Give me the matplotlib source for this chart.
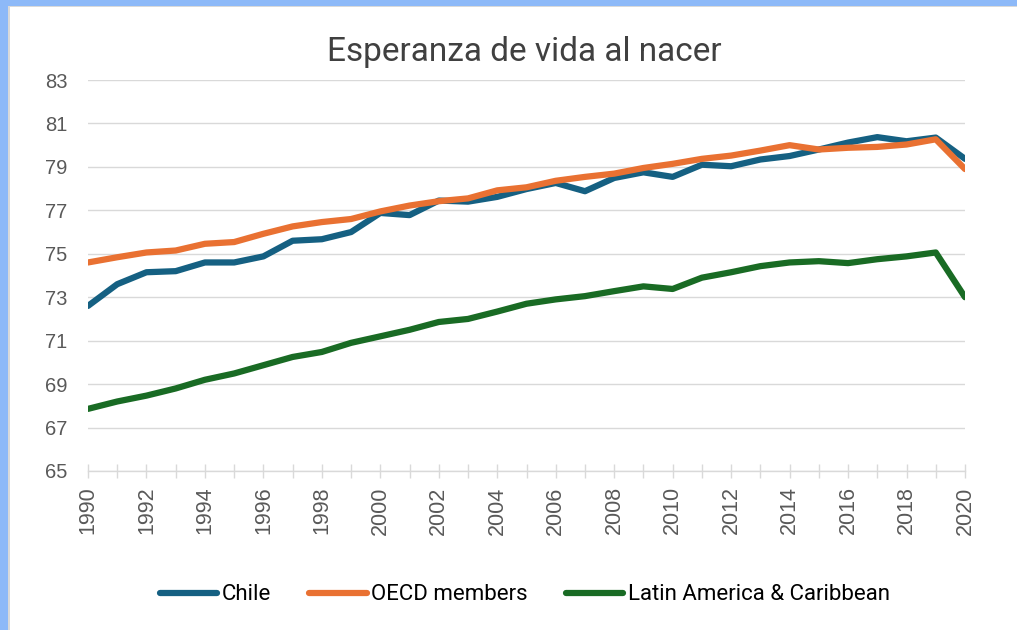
import matplotlib
matplotlib.use("Agg")
import matplotlib.pyplot as plt
from matplotlib.patches import Rectangle

# Life expectancy at birth
years = list(range(1990, 2021))
chile = [72.6, 73.6, 74.15, 74.2, 74.6, 74.6, 74.88, 75.6, 75.67, 76.0,
         76.88, 76.78, 77.45, 77.4, 77.62, 77.98, 78.26, 77.88, 78.49, 78.75,
         78.54, 79.1, 79.03, 79.34, 79.5, 79.8, 80.12, 80.37, 80.18, 80.35,
         79.37]
oecd = [74.6, 74.84, 75.06, 75.15, 75.46, 75.54, 75.92, 76.26, 76.46, 76.6,
        76.95, 77.22, 77.42, 77.55, 77.92, 78.06, 78.36, 78.54, 78.69, 78.95,
        79.14, 79.37, 79.52, 79.75, 80.0, 79.8, 79.88, 79.92, 80.03, 80.27,
        78.9]
latam = [67.86, 68.2, 68.47, 68.8, 69.2, 69.49, 69.87, 70.25, 70.48, 70.9,
         71.2, 71.5, 71.86, 72.0, 72.34, 72.7, 72.9, 73.05, 73.28, 73.5,
         73.38, 73.9, 74.15, 74.43, 74.6, 74.66, 74.57, 74.75, 74.88, 75.06,
         73.0]
series_names = ["Chile", "OECD members", "Latin America & Caribbean"]
series_colors = ["#156082", "#E97132", "#196B24"]
y_ticks = list(range(65, 84, 2))
x_ticks = list(range(1990, 2021, 2))

W, H = 1017, 630
fig = plt.figure(figsize=(W / 100, H / 100), dpi=100)
ax = fig.add_axes([88 / W, 1 - 471 / H, (965 - 88) / W, (471 - 80) / H])

narrow = ["Roboto", "DejaVu Sans"]

for vals, name, col in zip([chile, oecd, latam], series_names, series_colors):
    ax.plot(years, vals, color=col, lw=4.5, label=name,
            solid_capstyle="round", solid_joinstyle="round", zorder=3)

ax.set_xlim(1990, 2020)
ax.set_ylim(65, 83)
ax.set_yticks(y_ticks)
ax.set_xticks(x_ticks)
ax.set_xticks(years, minor=True)
ax.grid(axis="y", color="#d9d9d9", lw=1.0)
ax.set_axisbelow(True)

for side in ["top", "right", "left"]:
    ax.spines[side].set_visible(False)
ax.spines["bottom"].set_color("#d9d9d9")
ax.spines["bottom"].set_linewidth(1.0)

ax.tick_params(axis="y", length=0, pad=15, labelsize=14.5,
               labelcolor="#595959", labelfontfamily="Liberation Sans")
ax.tick_params(axis="x", which="both", direction="inout", length=10,
               color="#d9d9d9", width=1.0)
ax.tick_params(axis="x", which="major", pad=6, labelsize=15.5,
               labelcolor="#595959", labelrotation=90,
               labelfontfamily="Liberation Sans")

fig.text(0.516, 1 - 52 / H, "Esperanza de vida al nacer", ha="center",
         va="center", fontsize=24, color="#404040", family=narrow)

fig.legend(loc="center", bbox_to_anchor=(0.516, 1 - 595 / H), ncol=3,
           frameon=False, handlelength=2.6, handletextpad=0.2,
           columnspacing=1.7, prop={"family": narrow, "size": 16})

# light blue frame strips on top and left of the screenshot
fig.add_artist(Rectangle((0, 1 - 6 / H), 1, 6 / H, transform=fig.transFigure,
                         color="#8db9f8", lw=0))
fig.add_artist(Rectangle((0, 0), 8 / W, 1, transform=fig.transFigure,
                         color="#8db9f8", lw=0))
fig.add_artist(Rectangle((8 / W, 0), 2 / W, 1 - 6 / H, transform=fig.transFigure,
                         color="#d9d9d9", lw=0))
fig.add_artist(Rectangle((8 / W, 1 - 7 / H), 1, 1 / H, transform=fig.transFigure,
                         color="#d9d9d9", lw=0))

fig.savefig("out.png", dpi=100)
